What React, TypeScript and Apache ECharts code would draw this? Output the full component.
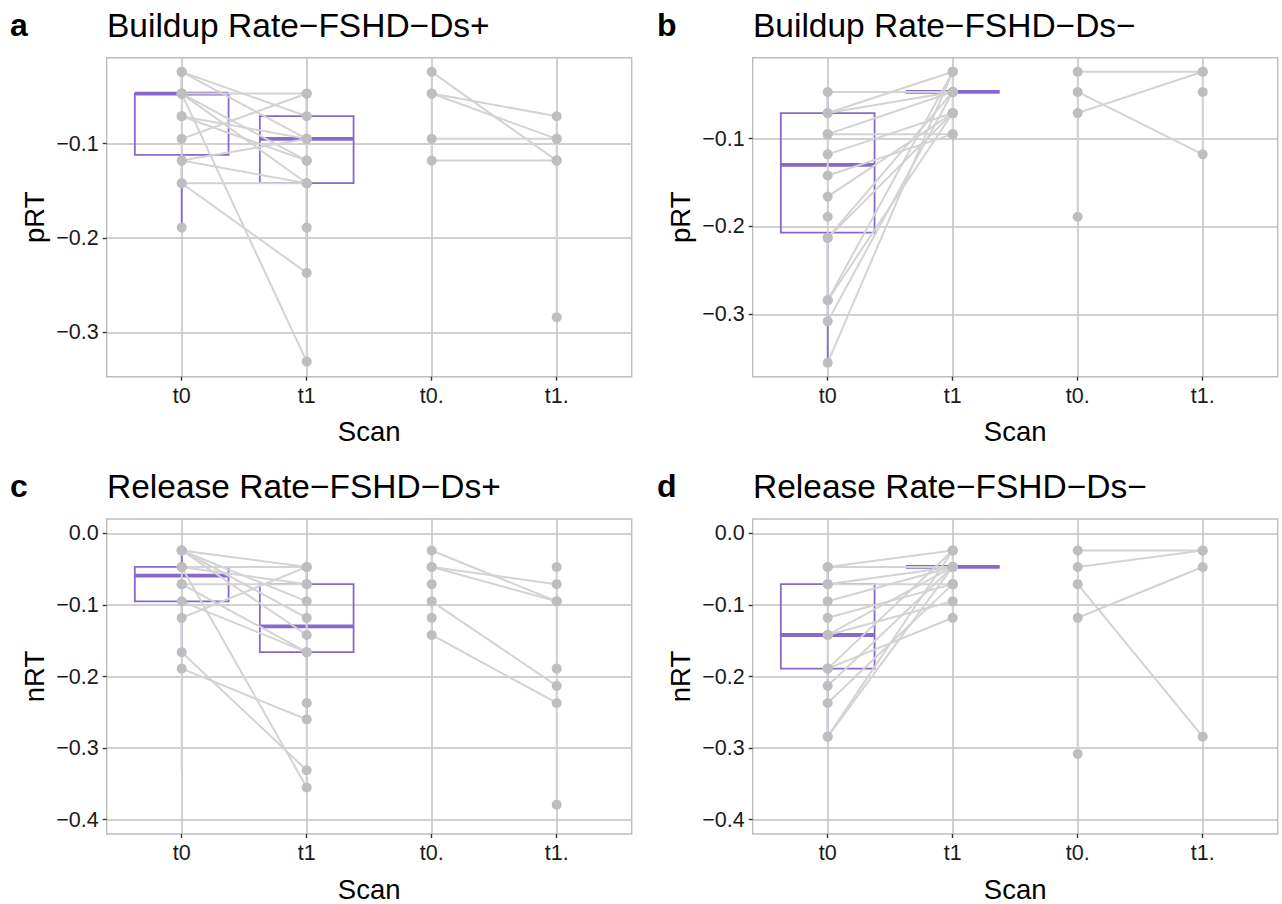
import React, { useEffect, useRef } from 'react';
import * as echarts from 'echarts';

// ---------- data ----------
const scanLabels = ['t0', 't1', 't0.', 't1.'];
const panelLetters = ['a', 'b', 'c', 'd'];
const panelTitles = [
  'Buildup Rate−FSHD−Ds+',
  'Buildup Rate−FSHD−Ds−',
  'Release Rate−FSHD−Ds+',
  'Release Rate−FSHD−Ds−',
];
const yAxisNames = ['pRT', 'pRT', 'nRT', 'nRT'];
const xAxisName = 'Scan';

const yTicksTop = [-0.3, -0.2, -0.1];
const yTicksBottom = [-0.4, -0.3, -0.2, -0.1, 0.0];
const yRanges = [
  [-0.347, -0.009],
  [-0.371, -0.008],
  [-0.42, 0.02],
  [-0.42, 0.02],
];

// paired values t0 -> t1
const aPairs = [[-0.024, -0.071], [-0.024, -0.095], [-0.047, -0.047], [-0.047, -0.118], [-0.047, -0.142], [-0.047, -0.331], [-0.071, -0.095], [-0.071, -0.118], [-0.095, -0.047], [-0.118, -0.095], [-0.118, -0.142], [-0.142, -0.142], [-0.142, -0.237]];
const bPairs = [[-0.047, -0.047], [-0.071, -0.024], [-0.071, -0.047], [-0.095, -0.095], [-0.095, -0.047], [-0.118, -0.071], [-0.142, -0.095], [-0.166, -0.071], [-0.213, -0.071], [-0.213, -0.047], [-0.284, -0.024], [-0.284, -0.071], [-0.308, -0.047], [-0.355, -0.024]];
const cPairs = [[-0.024, -0.047], [-0.024, -0.095], [-0.024, -0.118], [-0.024, -0.142], [-0.047, -0.047], [-0.047, -0.071], [-0.047, -0.355], [-0.071, -0.071], [-0.071, -0.166], [-0.095, -0.166], [-0.118, -0.047], [-0.166, -0.331], [-0.189, -0.26]];
const dPairs = [[-0.047, -0.024], [-0.047, -0.047], [-0.071, -0.047], [-0.071, -0.071], [-0.095, -0.047], [-0.118, -0.071], [-0.142, -0.047], [-0.142, -0.095], [-0.189, -0.118], [-0.189, -0.024], [-0.213, -0.047], [-0.237, -0.071], [-0.284, -0.024], [-0.284, -0.047]];

// paired values t0. -> t1.
const aDotPairs = [[-0.024, -0.118], [-0.047, -0.071], [-0.047, -0.095], [-0.095, -0.095], [-0.118, -0.118]];
const bDotPairs = [[-0.024, -0.024], [-0.071, -0.024], [-0.047, -0.118]];
const cDotPairs = [[-0.024, -0.095], [-0.047, -0.071], [-0.047, -0.095], [-0.095, -0.213], [-0.142, -0.237]];
const dDotPairs = [[-0.024, -0.024], [-0.047, -0.024], [-0.118, -0.047], [-0.071, -0.284]];

// unpaired points [scan index, value]
const aSingles = [[1, -0.189], [2, -0.189], [4, -0.284]];
const bSingles = [[1, -0.189], [3, -0.189], [4, -0.047]];
const cSingles = [[2, -0.237], [3, -0.071], [3, -0.118], [4, -0.047], [4, -0.189], [4, -0.379]];
const dSingles = [[3, -0.308]];

// vertical connecting spans [scan index, from, to]
const aSpans = [[1, -0.024, -0.142], [2, -0.047, -0.331], [3, -0.024, -0.118], [4, -0.071, -0.284]];
const bSpans = [[1, -0.047, -0.308], [2, -0.024, -0.095], [3, -0.024, -0.189], [4, -0.024, -0.118]];
const cSpans = [[1, -0.047, -0.331], [2, -0.047, -0.355], [3, -0.024, -0.142], [4, -0.047, -0.379]];
const dSpans = [[1, -0.047, -0.284], [2, -0.024, -0.118], [3, -0.024, -0.308], [4, -0.024, -0.284]];

// boxplot stats [scan index, lower whisker, Q1, median, Q3, upper whisker]
const aBoxes = [[1, -0.189, -0.112, -0.047, -0.047, -0.024], [2, -0.237, -0.142, -0.095, -0.071, -0.047]];
const bBoxes = [[1, -0.355, -0.207, -0.130, -0.071, -0.047], [2, -0.047, -0.047, -0.047, -0.047, -0.047]];
const cBoxes = [[1, -0.166, -0.095, -0.059, -0.047, -0.024], [2, -0.26, -0.166, -0.130, -0.071, -0.047]];
const dBoxes = [[1, -0.284, -0.189, -0.142, -0.071, -0.047], [2, -0.047, -0.047, -0.047, -0.047, -0.047]];

const panels = [
  { pairs: aPairs, dotPairs: aDotPairs, singles: aSingles, spans: aSpans, boxes: aBoxes },
  { pairs: bPairs, dotPairs: bDotPairs, singles: bSingles, spans: bSpans, boxes: bBoxes },
  { pairs: cPairs, dotPairs: cDotPairs, singles: cSingles, spans: cSpans, boxes: cBoxes },
  { pairs: dPairs, dotPairs: dDotPairs, singles: dSingles, spans: dSpans, boxes: dBoxes },
];

// ---------- style ----------
const FONT = '"Liberation Sans", Arial, Helvetica, sans-serif';
const PURPLE = '#8968CD';
const LINE_GRAY = '#d3d3d3';
const POINT_GRAY = '#bebebe';
const GRID_GRAY = '#c2c2c2';
const BORDER_GRAY = '#bdbdbd';

const gridRects = [
  { left: 106.7, top: 57.7, width: 525, height: 319 },
  { left: 752.7, top: 57.7, width: 525, height: 319 },
  { left: 106.7, top: 519, width: 525, height: 318.7 },
  { left: 752.7, top: 519, width: 525, height: 318.7 },
];
const titlePos = [
  { letterLeft: 10, left: 107, top: 9 },
  { letterLeft: 657, left: 753, top: 9 },
  { letterLeft: 10, left: 107, top: 470 },
  { letterLeft: 657, left: 753, top: 470 },
];

function fmtY(v: number) {
  const s = Math.abs(v).toFixed(1);
  return v < -1e-9 ? '−' + s : s;
}

function buildOption() {
  const title: any[] = [];
  const grid: any[] = [];
  const xAxis: any[] = [];
  const yAxis: any[] = [];
  const series: any[] = [];

  panels.forEach((p, i) => {
    const tp = titlePos[i];
    title.push({
      text: panelLetters[i], left: tp.letterLeft, top: tp.top, padding: 0,
      textStyle: { fontFamily: FONT, fontSize: 32, fontWeight: 'bold', color: '#000' },
    });
    title.push({
      text: panelTitles[i], left: tp.left, top: tp.top - 1, padding: 0,
      textStyle: { fontFamily: FONT, fontSize: 33.5, fontWeight: 'normal', color: '#000' },
    });
    grid.push({
      ...gridRects[i], show: true, borderColor: BORDER_GRAY, borderWidth: 1.4,
      backgroundColor: 'transparent', containLabel: false,
    });
    const ticksY = i < 2 ? yTicksTop : yTicksBottom;
    xAxis.push({
      gridIndex: i, type: 'value', min: 0.4, max: 4.6,
      name: xAxisName, nameLocation: 'middle', nameGap: 41,
      nameTextStyle: { fontFamily: FONT, fontSize: 27.5, color: '#000' },
      axisLine: { show: false, onZero: false },
      axisTick: { show: true, length: 4, customValues: [1, 2, 3, 4], lineStyle: { color: '#333', width: 1.4 } },
      axisLabel: {
        customValues: [1, 2, 3, 4], margin: 8,
        fontFamily: FONT, fontSize: 21.5, color: '#1a1a1a',
        formatter: (v: number) => scanLabels[Math.round(v) - 1] ?? '',
      },
      splitLine: { show: true, lineStyle: { color: GRID_GRAY, width: 1.5 } },
    });
    yAxis.push({
      gridIndex: i, type: 'value', min: yRanges[i][0], max: yRanges[i][1],
      splitNumber: i < 2 ? 3 : 4,
      name: yAxisNames[i], nameLocation: 'middle', nameGap: 58, nameRotate: 90,
      nameTextStyle: { fontFamily: FONT, fontSize: 27.5, color: '#000' },
      axisLine: { show: false, onZero: false },
      axisTick: { show: true, length: 4, customValues: ticksY, lineStyle: { color: '#333', width: 1.4 } },
      axisLabel: {
        customValues: ticksY, margin: 8,
        fontFamily: FONT, fontSize: 21.5, color: '#1a1a1a',
        formatter: (v: number) => fmtY(v),
      },
      splitLine: { show: true, lineStyle: { color: GRID_GRAY, width: 1.5 } },
    });

    // box plots
    series.push({
      type: 'custom', xAxisIndex: i, yAxisIndex: i, z: 2,
      data: p.boxes,
      encode: { x: 0, y: [1, 2, 3, 4, 5] },
      renderItem: (params: any, api: any) => {
        const x = api.value(0);
        const lo = api.coord([x, api.value(1)]);
        const q1 = api.coord([x, api.value(2)]);
        const md = api.coord([x, api.value(3)]);
        const q3 = api.coord([x, api.value(4)]);
        const hi = api.coord([x, api.value(5)]);
        const w = api.size([0.75, 0])[0];
        const cx = md[0];
        const st = { stroke: PURPLE, lineWidth: 1.8, fill: 'none' };
        return {
          type: 'group',
          children: [
            { type: 'line', shape: { x1: cx, y1: lo[1], x2: cx, y2: q1[1] }, style: st },
            { type: 'line', shape: { x1: cx, y1: q3[1], x2: cx, y2: hi[1] }, style: st },
            { type: 'rect', shape: { x: cx - w / 2, y: q3[1], width: w, height: q1[1] - q3[1] }, style: st },
            { type: 'line', shape: { x1: cx - w / 2, y1: md[1], x2: cx + w / 2, y2: md[1] }, style: { stroke: PURPLE, lineWidth: 3.8 } },
          ],
        };
      },
    });

    // connecting lines
    const segs: number[][] = [];
    p.spans.forEach((s) => segs.push([s[0], s[1], s[0], s[2]]));
    p.pairs.forEach((pr) => segs.push([1, pr[0], 2, pr[1]]));
    p.dotPairs.forEach((pr) => segs.push([3, pr[0], 4, pr[1]]));
    series.push({
      type: 'custom', xAxisIndex: i, yAxisIndex: i, z: 3,
      data: segs,
      encode: { x: [0, 2], y: [1, 3] },
      renderItem: (params: any, api: any) => {
        const a = api.coord([api.value(0), api.value(1)]);
        const b = api.coord([api.value(2), api.value(3)]);
        return {
          type: 'line',
          shape: { x1: a[0], y1: a[1], x2: b[0], y2: b[1] },
          style: { stroke: LINE_GRAY, lineWidth: 2 },
        };
      },
    });

    // points
    const pts: number[][] = [];
    p.pairs.forEach((pr) => { pts.push([1, pr[0]]); pts.push([2, pr[1]]); });
    p.dotPairs.forEach((pr) => { pts.push([3, pr[0]]); pts.push([4, pr[1]]); });
    p.singles.forEach((s) => pts.push([s[0], s[1]]));
    series.push({
      type: 'scatter', xAxisIndex: i, yAxisIndex: i, z: 4,
      data: pts, symbol: 'circle', symbolSize: 10,
      itemStyle: { color: POINT_GRAY, opacity: 1 },
      silent: true,
    });
  });

  return { animation: false, backgroundColor: '#fff', title, grid, xAxis, yAxis, series };
}

export default function App() {
  const ref = useRef<HTMLDivElement>(null);
  useEffect(() => {
    document.body.style.margin = '0';
    if (!ref.current) return;
    const chart = echarts.init(ref.current, undefined, { renderer: 'svg' });
    chart.setOption(buildOption() as any);
    return () => chart.dispose();
  }, []);
  return <div ref={ref} style={{ width: 1282, height: 904 }} />;
}
